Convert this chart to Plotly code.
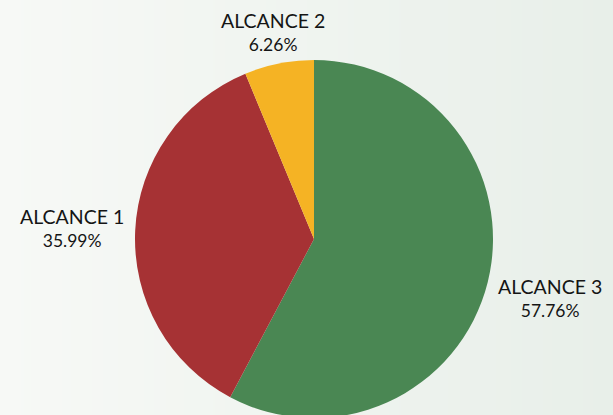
import math
import plotly.graph_objects as go

labels = ["ALCANCE 3", "ALCANCE 1", "ALCANCE 2"]
values = [57.76, 35.99, 6.26]
colors = ["#4a8753", "#a63234", "#f5b324"]

W, H = 613, 422          # figure size (page is clipped to 415 px tall)
CX, CY, R = 314, 239, 179  # pie centre / radius in pixels
LABEL_GAP = 9            # distance of label box from the pie edge
BOX_W, BOX_H = 108, 46   # approx. label box size

fig = go.Figure()

# subtle background gradient
fig.add_trace(go.Heatmap(
    x=[0, 1], y=[0, 1], z=[[0, 1], [0, 1]],
    zsmooth="best", showscale=False, hoverinfo="skip",
    colorscale=[[0, "#f7f9f6"], [1, "#e8efe9"]],
    xaxis="x", yaxis="y",
))

fig.add_trace(go.Pie(
    labels=labels, values=values, sort=False, direction="clockwise",
    rotation=0,
    marker=dict(colors=colors, line=dict(width=0)),
    textinfo="none", hoverinfo="label+value",
    domain=dict(x=[(CX - R) / W, (CX + R) / W],
                y=[1 - (CY + R) / H, 1 - (CY - R) / H]),
    showlegend=False,
))

# outside labels placed along each slice's mid-angle
total = sum(values)
cum = 0.0
annotations = []
for lab, val in zip(labels, values):
    mid = (cum + val / 2) / total
    cum += val
    th = 2 * math.pi * mid
    vx, vy = math.sin(th), -math.cos(th)   # screen direction (y down)
    r = R + LABEL_GAP
    px, py = CX + r * vx, CY + r * vy
    tx = (BOX_W / 2) / abs(vx) if abs(vx) > 1e-6 else 1e9
    ty = (BOX_H / 2) / abs(vy) if abs(vy) > 1e-6 else 1e9
    t = min(tx, ty)
    bx, by = px + vx * t, py + vy * t
    annotations.append(dict(
        x=bx / W, y=1 - by / H, xref="paper", yref="paper",
        xanchor="center", yanchor="middle", showarrow=False, align="center",
        text=f"<span style='font-size:19.5px'>{lab}</span><br>{val:.2f}%",
        font=dict(family="Lato", size=17.5, color="#151515"),
    ))

fig.update_layout(
    width=W, height=H,
    margin=dict(l=0, r=0, t=0, b=0),
    paper_bgcolor="#f4f7f3",
    plot_bgcolor="rgba(0,0,0,0)",
    xaxis=dict(visible=False, range=[0, 1], domain=[0, 1], fixedrange=True),
    yaxis=dict(visible=False, range=[0, 1], domain=[0, 1], fixedrange=True),
    showlegend=False,
    annotations=annotations,
)

fig.write_html(
    "out.html",
    config={"displayModeBar": False},
    post_script="document.body.style.margin='0';document.body.style.overflow='hidden';document.documentElement.style.overflow='hidden';",
)
